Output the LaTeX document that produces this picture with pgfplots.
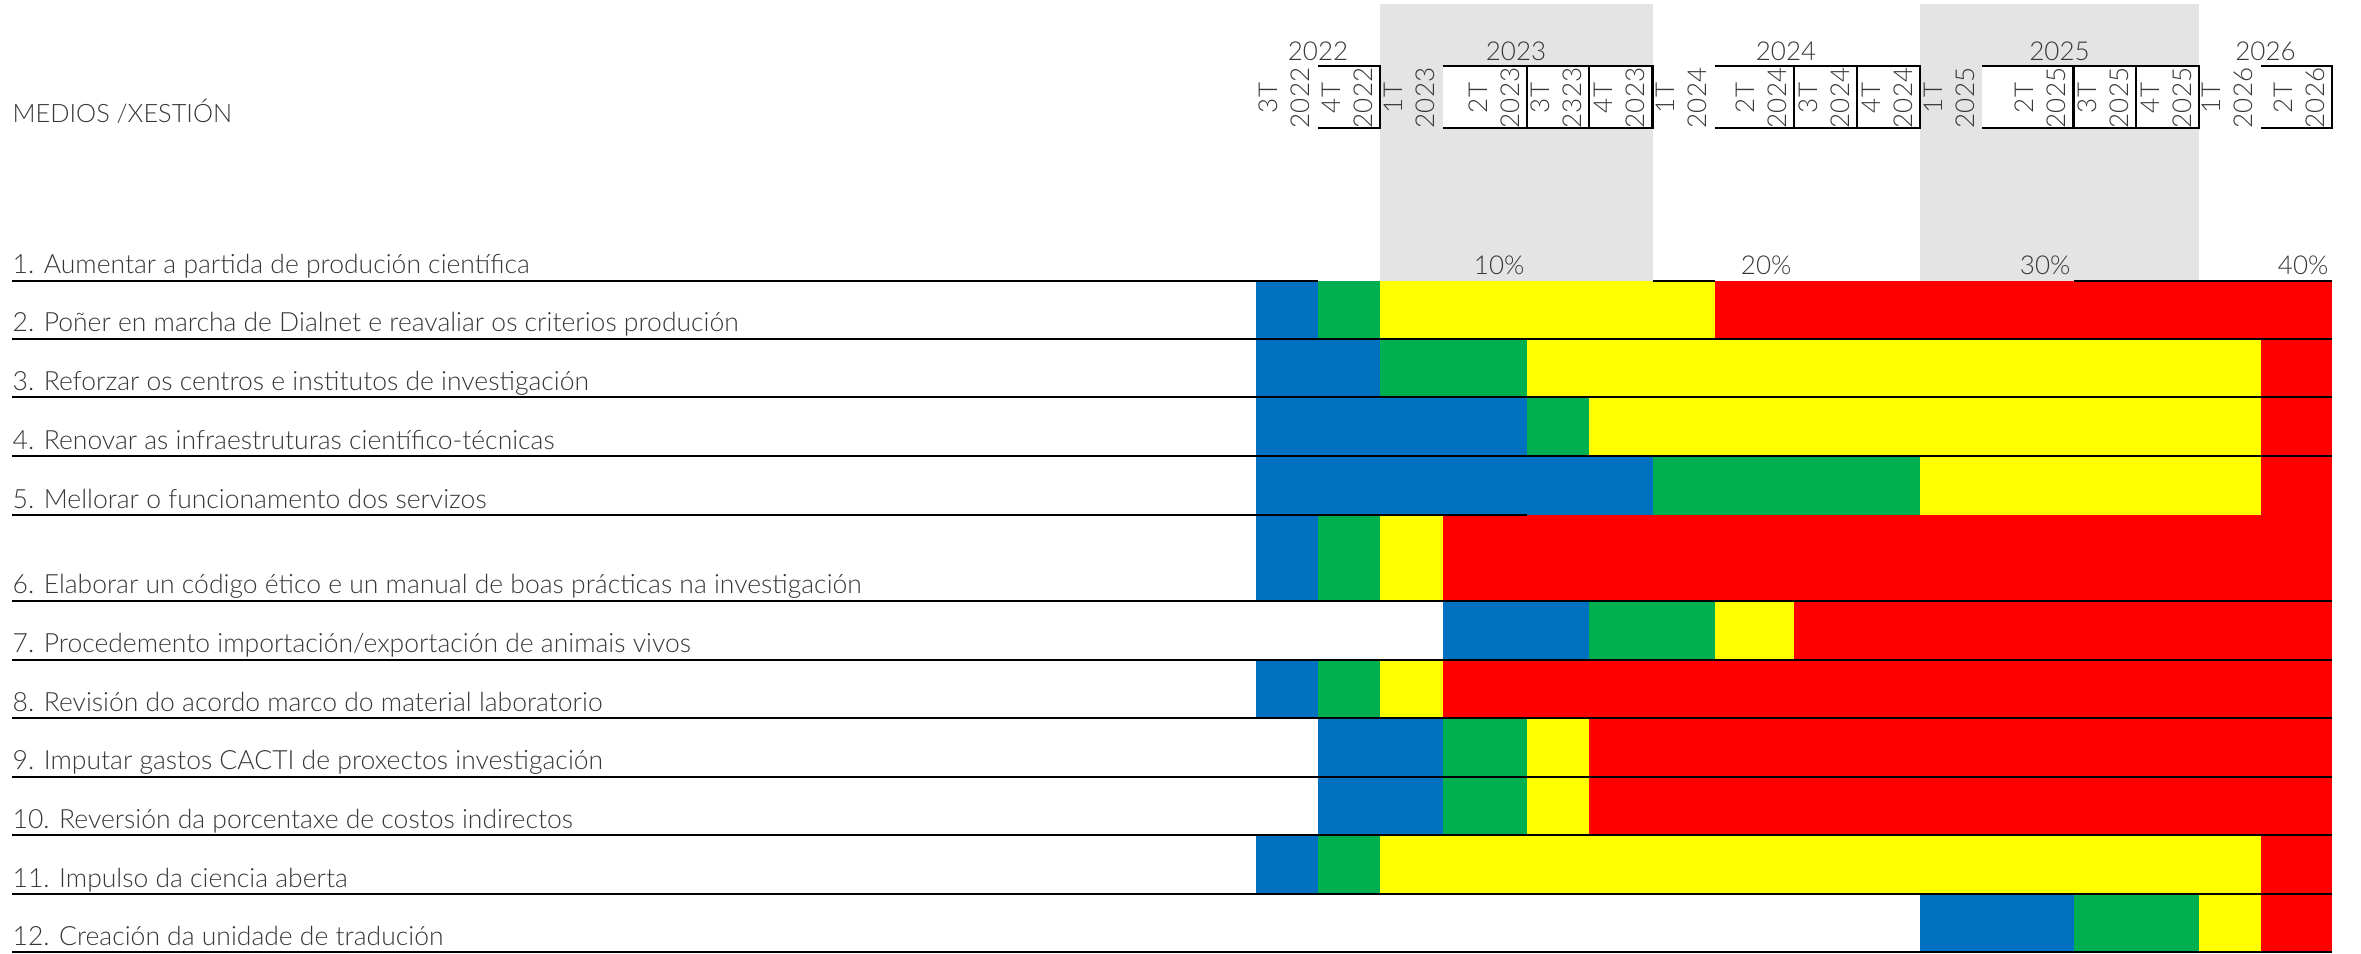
\documentclass[border=0pt]{standalone}
\usepackage{fontspec}
\setmainfont{Lato}[UprightFont={* Light}]
\usepackage{pgfplots}
\pgfplotsset{compat=1.18}
\definecolor{cblue}{RGB}{0,112,192}
\definecolor{cgreen}{RGB}{0,176,80}
\definecolor{cyellow}{RGB}{255,255,0}
\definecolor{cred}{RGB}{255,0,0}
\definecolor{cgray}{RGB}{228,228,228}
\definecolor{ctext}{RGB}{55,55,55}
\newcommand{\hdr}{\fontsize{7.8}{9.6}\selectfont\color{ctext}}
\newcommand{\lbl}{\fontsize{7.95}{9.4}\selectfont\color{ctext}}
% one rectangle: x0 x1 y0 y1 colour
\newcommand{\seg}[5]{\addplot[fill=#5, draw=none, forget plot] coordinates {(#1,#3) (#2,#3) (#2,#4) (#1,#4)};}
\newcommand{\qlab}[3]{\node[rotate=90, anchor=south, align=center, inner sep=0pt, font=\hdr] at (axis cs:#1,98) {#2\\#3};}
\newcommand{\hrl}[3]{\draw[line width=0.6pt, black] (axis cs:#1,#3) -- (axis cs:#2,#3);}
\begin{document}
\begin{tikzpicture}
\begin{axis}[scale only axis, width=708.3pt, height=285.9pt,
  xmin=0, xmax=2361, ymin=0, ymax=953, y dir=reverse,
  hide axis, clip=false]
% frame for bounding box
\draw[white, line width=0pt] (axis cs:0,0) rectangle (axis cs:2361,953);
% gray year bands
\seg{1380}{1652.5}{4}{281}{cgray}
\seg{1920}{2199}{4}{281}{cgray}
\seg{1442.5}{1652.5}{66}{128}{white}
\seg{1982}{2199}{66}{128}{white}
% row 2
\seg{1255.8}{1317.5}{281}{339}{cblue}
\seg{1317.5}{1380}{281}{339}{cgreen}
\seg{1380}{1714.5}{281}{339}{cyellow}
\seg{1714.5}{2332}{281}{339}{cred}
% row 3
\seg{1255.8}{1380}{339}{397.3}{cblue}
\seg{1380}{1527}{339}{397.3}{cgreen}
\seg{1527}{2260.5}{339}{397.3}{cyellow}
\seg{2260.5}{2332}{339}{397.3}{cred}
% row 4
\seg{1255.8}{1527}{397.3}{456.3}{cblue}
\seg{1527}{1589}{397.3}{456.3}{cgreen}
\seg{1589}{2260.5}{397.3}{456.3}{cyellow}
\seg{2260.5}{2332}{397.3}{456.3}{cred}
% row 5
\seg{1255.8}{1652.5}{456.3}{515}{cblue}
\seg{1652.5}{1920}{456.3}{515}{cgreen}
\seg{1920}{2260.5}{456.3}{515}{cyellow}
\seg{2260.5}{2332}{456.3}{515}{cred}
% row 6
\seg{1255.8}{1317.5}{515}{600.7}{cblue}
\seg{1317.5}{1380}{515}{600.7}{cgreen}
\seg{1380}{1442.5}{515}{600.7}{cyellow}
\seg{1442.5}{2332}{515}{600.7}{cred}
% row 7
\seg{1442.5}{1589}{600.7}{659.7}{cblue}
\seg{1589}{1714.5}{600.7}{659.7}{cgreen}
\seg{1714.5}{1794}{600.7}{659.7}{cyellow}
\seg{1794}{2332}{600.7}{659.7}{cred}
% row 8
\seg{1255.8}{1317.5}{659.7}{718.3}{cblue}
\seg{1317.5}{1380}{659.7}{718.3}{cgreen}
\seg{1380}{1442.5}{659.7}{718.3}{cyellow}
\seg{1442.5}{2332}{659.7}{718.3}{cred}
% row 9
\seg{1317.5}{1442.5}{718.3}{776.7}{cblue}
\seg{1442.5}{1527}{718.3}{776.7}{cgreen}
\seg{1527}{1589}{718.3}{776.7}{cyellow}
\seg{1589}{2332}{718.3}{776.7}{cred}
% row 10
\seg{1317.5}{1442.5}{776.7}{835.3}{cblue}
\seg{1442.5}{1527}{776.7}{835.3}{cgreen}
\seg{1527}{1589}{776.7}{835.3}{cyellow}
\seg{1589}{2332}{776.7}{835.3}{cred}
% row 11
\seg{1255.8}{1317.5}{835.3}{894}{cblue}
\seg{1317.5}{1380}{835.3}{894}{cgreen}
\seg{1380}{2260.5}{835.3}{894}{cyellow}
\seg{2260.5}{2332}{835.3}{894}{cred}
% row 12
\seg{1920}{2073.5}{894}{952.3}{cblue}
\seg{2073.5}{2199}{894}{952.3}{cgreen}
\seg{2199}{2260.5}{894}{952.3}{cyellow}
\seg{2260.5}{2332}{894}{952.3}{cred}
% row rules
\hrl{12}{1317.5}{281}
\hrl{1652.5}{1714.5}{281}
\hrl{2073.5}{2332}{281}
\hrl{12}{2332}{339}
\hrl{12}{2332}{397.3}
\hrl{12}{2332}{456.3}
\hrl{12}{1527}{515}
\hrl{12}{2332}{600.7}
\hrl{12}{2332}{659.7}
\hrl{12}{2332}{718.3}
\hrl{12}{2332}{776.7}
\hrl{12}{2332}{835.3}
\hrl{12}{2332}{894}
\hrl{12}{2332}{952.3}
% header boxes
\draw[line width=0.8pt] (axis cs:1317.5,66) -- (axis cs:1380,66) -- (axis cs:1380,128) -- (axis cs:1317.5,128);
\draw[line width=0.8pt] (axis cs:1442.5,66) -- (axis cs:1652.5,66) -- (axis cs:1652.5,128) -- (axis cs:1442.5,128);
\draw[line width=0.8pt] (axis cs:1527,66) -- (axis cs:1527,128);
\draw[line width=0.8pt] (axis cs:1589,66) -- (axis cs:1589,128);
\draw[line width=0.8pt] (axis cs:1714.5,66) -- (axis cs:1920,66) -- (axis cs:1920,128) -- (axis cs:1714.5,128);
\draw[line width=0.8pt] (axis cs:1794,66) -- (axis cs:1794,128);
\draw[line width=0.8pt] (axis cs:1857,66) -- (axis cs:1857,128);
\draw[line width=0.8pt] (axis cs:1982,66) -- (axis cs:2199,66) -- (axis cs:2199,128) -- (axis cs:1982,128);
\draw[line width=0.8pt] (axis cs:2073.5,66) -- (axis cs:2073.5,128);
\draw[line width=0.8pt] (axis cs:2136,66) -- (axis cs:2136,128);
\draw[line width=0.8pt] (axis cs:2260.5,66) -- (axis cs:2332,66) -- (axis cs:2332,128) -- (axis cs:2260.5,128);
% years
\node[anchor=base, inner sep=0pt, font=\hdr] at (axis cs:1318,61) {2022};
\node[anchor=base, inner sep=0pt, font=\hdr] at (axis cs:1516,61) {2023};
\node[anchor=base, inner sep=0pt, font=\hdr] at (axis cs:1786,61) {2024};
\node[anchor=base, inner sep=0pt, font=\hdr] at (axis cs:2059.5,61) {2025};
\node[anchor=base, inner sep=0pt, font=\hdr] at (axis cs:2265.5,61) {2026};
% quarters
\qlab{1310}{3T}{2022}
\qlab{1373}{4T}{2022}
\qlab{1435}{1T}{2023}
\qlab{1520}{2T}{2023}
\qlab{1582}{3T}{2323}
\qlab{1645}{4T}{2023}
\qlab{1707}{1T}{2024}
\qlab{1787}{2T}{2024}
\qlab{1850}{3T}{2024}
\qlab{1913}{4T}{2024}
\qlab{1975}{1T}{2025}
\qlab{2066}{2T}{2025}
\qlab{2129}{3T}{2025}
\qlab{2192}{4T}{2025}
\qlab{2253}{1T}{2026}
\qlab{2325}{2T}{2026}
% percentages
\node[anchor=base east, inner sep=0pt, font=\hdr] at (axis cs:1525,275) {10\%};
\node[anchor=base east, inner sep=0pt, font=\hdr] at (axis cs:1792,275) {20\%};
\node[anchor=base east, inner sep=0pt, font=\hdr] at (axis cs:2071,275) {30\%};
\node[anchor=base east, inner sep=0pt, font=\hdr] at (axis cs:2329,275) {40\%};
% header title
\node[anchor=base west, inner sep=0pt, font=\fontsize{7.6}{9}\selectfont\color{ctext}] at (axis cs:12,123) {MEDIOS /XESTIÓN};
% row labels
\node[anchor=base west, inner sep=0pt, font=\lbl] at (axis cs:12,274) {1. Aumentar a partida de produción científica};
\node[anchor=base west, inner sep=0pt, font=\lbl] at (axis cs:12,332) {2. Poñer en marcha de Dialnet e reavaliar os criterios produción};
\node[anchor=base west, inner sep=0pt, font=\lbl] at (axis cs:12,390.3) {3. Reforzar os centros e institutos de investigación};
\node[anchor=base west, inner sep=0pt, font=\lbl] at (axis cs:12,449.3) {4. Renovar as infraestruturas científico-técnicas};
\node[anchor=base west, inner sep=0pt, font=\lbl] at (axis cs:12,508) {5. Mellorar o funcionamento dos servizos};
\node[anchor=base west, inner sep=0pt, font=\lbl] at (axis cs:12,593.7) {6. Elaborar un código ético e un manual de boas prácticas na investigación};
\node[anchor=base west, inner sep=0pt, font=\lbl] at (axis cs:12,652.7) {7. Procedemento importación/exportación de animais vivos};
\node[anchor=base west, inner sep=0pt, font=\lbl] at (axis cs:12,711.3) {8. Revisión do acordo marco do material laboratorio};
\node[anchor=base west, inner sep=0pt, font=\lbl] at (axis cs:12,769.7) {9. Imputar gastos CACTI de proxectos investigación};
\node[anchor=base west, inner sep=0pt, font=\lbl] at (axis cs:12,828.3) {10. Reversión da porcentaxe de costos indirectos};
\node[anchor=base west, inner sep=0pt, font=\lbl] at (axis cs:12,887) {11. Impulso da ciencia aberta};
\node[anchor=base west, inner sep=0pt, font=\lbl] at (axis cs:12,945.3) {12. Creación da unidade de tradución};
\end{axis}
\end{tikzpicture}
\end{document}
